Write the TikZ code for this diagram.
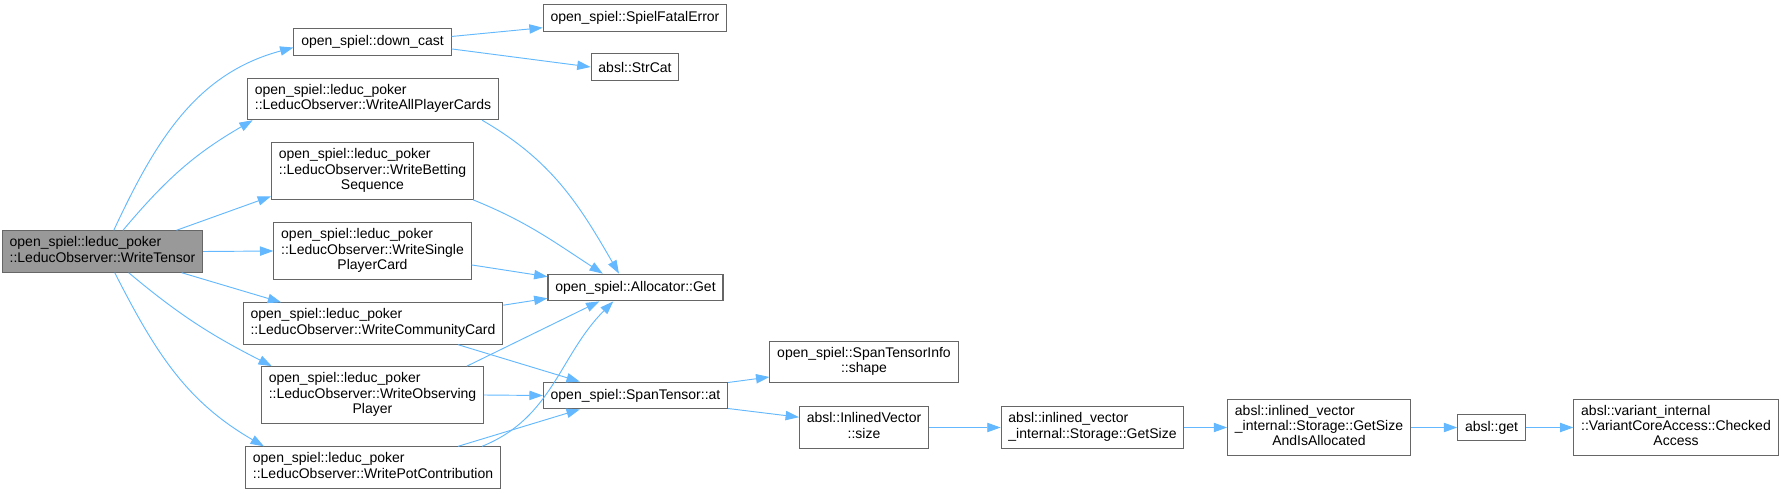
\documentclass[tikz,border=0pt]{standalone}
\usepackage{fontspec}
\setmainfont{Liberation Sans}
\usetikzlibrary{arrows.meta}
\definecolor{edgeblue}{HTML}{63B8FF}
\definecolor{boxgray}{HTML}{666666}
\definecolor{maingray}{HTML}{999999}
\newcommand{\fnlabel}[2]{\begin{tabular}{@{}l@{}}#1\\\multicolumn{1}{@{}c@{}}{#2}\end{tabular}}
\begin{document}
\begin{tikzpicture}[
    x=0.75pt, y=-0.75pt,
    fn/.style={rectangle, draw=boxgray, fill=white, line width=0.8pt, inner xsep=5.5pt, inner ysep=4pt, minimum height=20pt, align=center, font=\fontsize{10.5}{11.5}\selectfont},
    main/.style={fn, fill=maingray},
    call/.style={-{Triangle[length=10pt, width=7pt]}, draw=edgeblue, line width=0.7pt}
]
\useasboundingbox (0,0) rectangle (1782,493);
\node[main] (writetensor) at (102.5,251.5) {\fnlabel{open\_spiel::leduc\_poker}{::LeducObserver::WriteTensor}};
\node[fn] (downcast) at (372.5,42) {open\_spiel::down\_cast};
\node[fn] (fatalerror) at (635,18) {open\_spiel::SpielFatalError};
\node[fn] (strcat) at (635,67) {absl::StrCat};
\node[fn] (allcards) at (373,99) {\fnlabel{open\_spiel::leduc\_poker}{::LeducObserver::WriteAllPlayerCards}};
\node[fn] (betting) at (372.5,171) {\fnlabel{open\_spiel::leduc\_poker\\::LeducObserver::WriteBetting}{Sequence}};
\node[fn] (single) at (372.5,251) {\fnlabel{open\_spiel::leduc\_poker\\::LeducObserver::WriteSingle}{PlayerCard}};
\node[fn] (allocget) at (635.5,287.5) {open\_spiel::Allocator::Get};
\node[fn] (community) at (373,323.5) {\fnlabel{open\_spiel::leduc\_poker}{::LeducObserver::WriteCommunityCard}};
\node[fn] (observing) at (372.5,395) {\fnlabel{open\_spiel::leduc\_poker\\::LeducObserver::WriteObserving}{Player}};
\node[fn] (potcontrib) at (373,467.5) {\fnlabel{open\_spiel::leduc\_poker}{::LeducObserver::WritePotContribution}};
\node[fn] (spanat) at (635.5,395.5) {open\_spiel::SpanTensor::at};
\node[fn] (tensorshape) at (864,362) {\fnlabel{open\_spiel::SpanTensorInfo}{::shape}};
\node[fn] (ivsize) at (864,427.5) {\fnlabel{absl::InlinedVector}{::size}};
\node[fn] (getsize) at (1092.5,427.5) {\fnlabel{absl::inlined\_vector}{\_internal::Storage::GetSize}};
\node[fn] (sizealloc) at (1319,427.5) {\fnlabel{absl::inlined\_vector\\\_internal::Storage::GetSize}{AndIsAllocated}};
\node[fn] (absget) at (1491.5,427.5) {absl::get};
\node[fn] (checked) at (1676,427.5) {\fnlabel{absl::variant\_internal\\::VariantCoreAccess::Checked}{Access}};
\draw[call] (writetensor.62) to[out=65, in=195] (downcast.184);
\draw[call] (writetensor.46) to[out=50, in=210] (allcards.190);
\draw[call] (writetensor.16) -- (betting.194);
\draw[call] (writetensor.east) -- (single.west);
\draw[call] (writetensor.-15) -- (community.167);
\draw[call] (writetensor.-39) to[out=-40, in=153] (observing.164);
\draw[call] (writetensor.-60) to[out=-63, in=150] (potcontrib.169);
\draw[call] (downcast.4) -- (fatalerror.186);
\draw[call] (downcast.-5) -- (strcat.west);
\draw[call] (allcards.-11) to[out=-30, in=120] (allocget.140);
\draw[call] (betting.-16) to[out=-22, in=147] (allocget.157);
\draw[call] (single.-8) -- (allocget.173);
\draw[call] (community.8) -- (allocget.187);
\draw[call] (observing.17) -- (allocget.201);
\draw[call] (potcontrib.11) to[out=22, in=225] (allocget.212);
\draw[call] (community.-14) -- (spanat.166);
\draw[call] (observing.east) -- (spanat.west);
\draw[call] (potcontrib.14) -- (spanat.194);
\draw[call] (spanat.8) -- (tensorshape.189);
\draw[call] (spanat.-8) -- (ivsize.171);
\draw[call] (ivsize.east) -- (getsize.west);
\draw[call] (getsize.east) -- (sizealloc.west);
\draw[call] (sizealloc.east) -- (absget.west);
\draw[call] (absget.east) -- (checked.west);
\end{tikzpicture}
\end{document}
